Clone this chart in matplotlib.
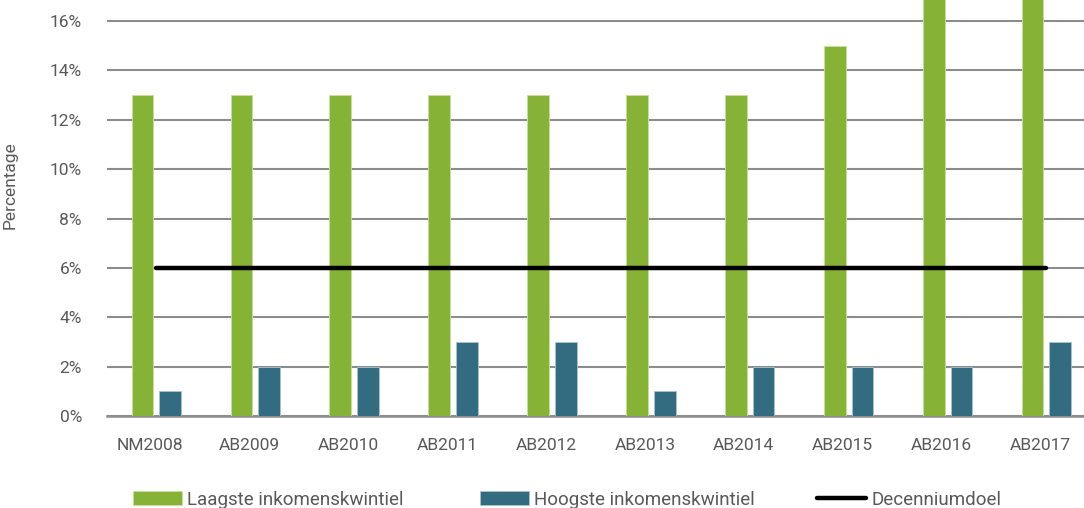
import matplotlib
matplotlib.use("Agg")
import matplotlib.pyplot as plt
import matplotlib.transforms as mtransforms
import numpy as np

plt.rcParams['font.family'] = ['Roboto', 'DejaVu Sans']

# data
categories = ["NM2008", "AB2009", "AB2010", "AB2011", "AB2012",
              "AB2013", "AB2014", "AB2015", "AB2016", "AB2017"]
laagste = [13, 13, 13, 13, 13, 13, 13, 15, 17, 17]
hoogste = [1, 2, 2, 3, 3, 1, 2, 2, 2, 3]
decenniumdoel = [6] * len(categories)

green = "#86b236"
teal = "#336c80"
text_col = "#595959"
grid_col = "#8c8c8c"

fig = plt.figure(figsize=(10.84, 5.08), dpi=100)
ax = fig.add_axes([0.0987, 0.181, 0.9013, 0.819])

x = np.arange(len(categories))
w = 0.22
b1 = ax.bar(x - 0.14, laagste, w, color=green, edgecolor="#c9e0a0", linewidth=0.6,
            label="Laagste inkomenskwintiel", zorder=3)
b2 = ax.bar(x + 0.14, hoogste, w, color=teal, edgecolor="#a9c4ce", linewidth=0.6,
            label="Hoogste inkomenskwintiel", zorder=3)
l1, = ax.plot(x, decenniumdoel, color="black", linewidth=3.2, solid_capstyle="round",
              label="Decenniumdoel", zorder=4)

ax.set_xlim(-0.5, 9.38)
ax.set_ylim(0, 16.85)
ax.set_yticks(range(0, 17, 2))
ax.set_yticklabels([f"{v}%" for v in range(0, 17, 2)])
ax.set_xticks(x)
ax.set_xticklabels(categories)

ax.grid(axis="y", color=grid_col, linewidth=1.5, zorder=0)
ax.set_axisbelow(True)
for s in ["top", "right", "left"]:
    ax.spines[s].set_visible(False)
ax.spines["bottom"].set_color(grid_col)
ax.spines["bottom"].set_linewidth(1.8)
ax.tick_params(axis="both", length=0, labelsize=12.5, labelcolor=text_col)
ax.tick_params(axis="y", pad=18)
ax.tick_params(axis="x", pad=16)

# shift x labels slightly left as in the original
offset = mtransforms.ScaledTranslation(-6 / 100, 0, fig.dpi_scale_trans)
for lbl in ax.get_xticklabels():
    lbl.set_transform(lbl.get_transform() + offset)

ax.set_ylabel("Percentage", fontsize=12.5, color=text_col)
ax.yaxis.set_label_coords(-0.091, 0.555)

# legend entries placed separately, like the original layout
for h, xpos in [(b1, 133), (b2, 480), (l1, 817)]:
    fig.legend(handles=[h], loc="center left", bbox_to_anchor=(xpos / 1084, 0.016),
               frameon=False, fontsize=13.5, handlelength=2.6, handleheight=0.75,
               handletextpad=0.3, borderpad=0, borderaxespad=0, labelcolor=text_col)

fig.savefig("out.png", dpi=100)
